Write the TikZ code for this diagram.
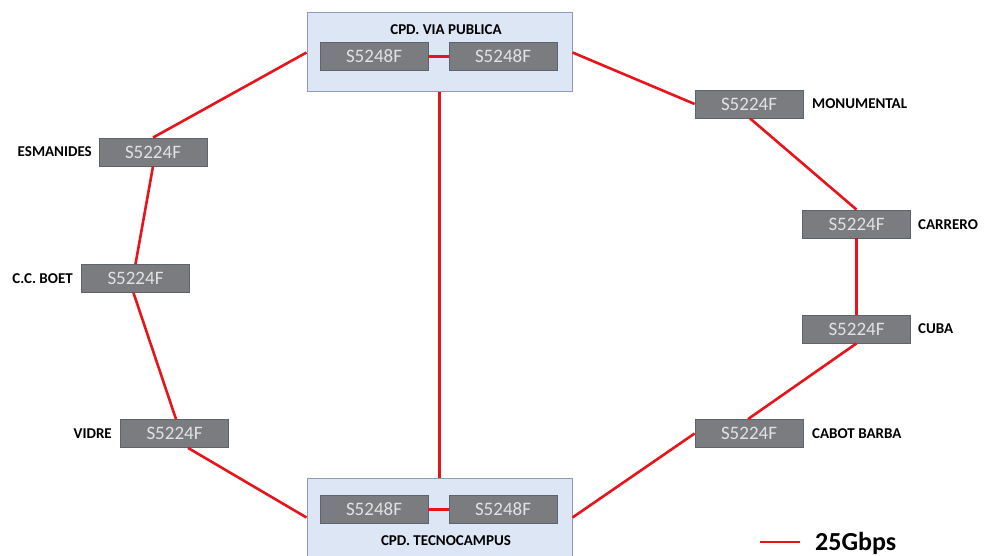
\documentclass[tikz,border=0pt]{standalone}
\usepackage{fontspec}
\setmainfont{Carlito}
\definecolor{swfill}{HTML}{7A7C80}
\definecolor{swborder}{HTML}{5C6470}
\definecolor{swtext}{HTML}{E2E2E2}
\definecolor{cpdfill}{HTML}{DCE6F4}
\definecolor{cpdborder}{HTML}{8C9CB4}
\definecolor{linkred}{HTML}{E8141C}
\begin{document}
\begin{tikzpicture}[x=1pt,y=-1pt,
  sw/.style={draw=swborder, line width=0.8pt, fill=swfill, minimum width=108pt, minimum height=28pt, inner sep=0pt, text=swtext, font=\fontsize{19}{19}\selectfont},
  cpd/.style={draw=cpdborder, line width=1pt, fill=cpdfill, minimum width=265pt, minimum height=79pt, inner sep=0pt},
  lbl/.style={font=\fontsize{15}{15}\selectfont\bfseries, text=black, inner sep=0pt},
  link/.style={draw=linkred, line width=2.6pt}]
\path[use as bounding box] (0,0) rectangle (984,556);
\fill[white] (0,0) rectangle (984,556);
% containers
\node[cpd] (top) at (439.5,52.5) {};
\node[cpd] (bot) at (439.5,517.5) {};
\node[lbl] (toptitle) at (446,30) {CPD. VIA PUBLICA};
\node[lbl] (bottitle) at (446,541) {CPD. TECNOCAMPUS};
% core switches
\node[sw] (t1) at (374,56.5) {S5248F};
\node[sw] (t2) at (503,56.5) {S5248F};
\node[sw] (b1) at (374,509.5) {S5248F};
\node[sw] (b2) at (503,509.5) {S5248F};
% ring switches
\node[sw] (esm) at (153,152) {S5224F};
\node[sw] (boet) at (135.5,278.5) {S5224F};
\node[sw] (vid) at (174.5,433.5) {S5224F};
\node[sw] (mon) at (749,104) {S5224F};
\node[sw] (car) at (856.5,224) {S5224F};
\node[sw] (cuba) at (856.5,329) {S5224F};
\node[sw] (cab) at (749,433.5) {S5224F};
% labels
\node[lbl, anchor=east] (lesm) at (92,152) {ESMANIDES};
\node[lbl, anchor=east] (lboet) at (73,279) {C.C. BOET};
\node[lbl, anchor=east] (lvid) at (112,434) {VIDRE};
\node[lbl, anchor=west] (lmon) at (812,104) {MONUMENTAL};
\node[lbl, anchor=west] (lcar) at (918,225) {CARRERO};
\node[lbl, anchor=west] (lcuba) at (918,329) {CUBA};
\node[lbl, anchor=west] (lcab) at (812,434) {CABOT BARBA};
% links
\draw[link] (t1.east) -- (t2.west);
\draw[link] (b1.east) -- (b2.west);
\draw[link] (top.south) -- (bot.north);
\draw[link] (top.west) -- (esm.north);
\draw[link] (esm.south) -- (boet.north);
\draw[link] ([xshift=-2pt]boet.south) -- ([xshift=1.5pt]vid.north);
\draw[link] ([xshift=13.5pt]vid.south) -- (bot.west);
\draw[link] (top.east) -- (mon.west);
\draw[link] ([xshift=1pt]mon.south) -- (car.north);
\draw[link] (car.south) -- (cuba.north);
\draw[link] (cuba.south) -- ([xshift=-1pt]cab.north);
\draw[link] (bot.east) -- (cab.west);
% legend
\coordinate (lg1) at (760,542);
\coordinate (lg2) at (800,542);
\draw[link] (lg1) -- (lg2);
\node[font=\fontsize{26}{26}\selectfont\bfseries, anchor=west, inner sep=0pt] (lgt) at (815,543) {25Gbps};
\end{tikzpicture}
\end{document}
